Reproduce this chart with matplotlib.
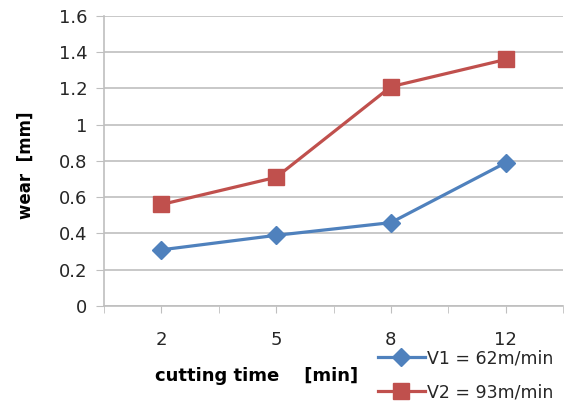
import matplotlib.pyplot as plt
import numpy as np

times = ["2", "5", "8", "12"]
wear_v1 = [0.31, 0.39, 0.46, 0.79]
wear_v2 = [0.56, 0.71, 1.21, 1.36]
label_v1 = "V1 = 62m/min"
label_v2 = "V2 = 93m/min"

blue = "#4F81BD"
red = "#C0504D"
grid_col = "#BFBFBF"
text_col = "#262626"

fig = plt.figure(figsize=(5.7, 4.03), dpi=100)
ax = fig.add_axes([0.1825, 0.2407, 0.8052, 0.7196])

x = np.arange(1, len(times) + 1)
l1, = ax.plot(x, wear_v1, color=blue, lw=2.3, marker="D", ms=9, label=label_v1)
l2, = ax.plot(x, wear_v2, color=red, lw=2.3, marker="s", ms=11, label=label_v2)

ax.set_xlim(0.5, 4.5)
ax.set_ylim(0, 1.6)
ax.set_yticks(np.arange(0, 1.61, 0.2))
ax.set_yticklabels(["0", "0.2", "0.4", "0.6", "0.8", "1", "1.2", "1.4", "1.6"])
ax.set_xticks(x)
ax.set_xticklabels(times)
ax.set_xticks(np.arange(0.5, 4.51, 1.0), minor=True)
ax.tick_params(axis="x", which="both", length=5, color=grid_col)
ax.tick_params(axis="x", which="major", pad=13, labelsize=13, labelcolor=text_col)
ax.tick_params(axis="y", length=6, color=grid_col, labelsize=13, labelcolor=text_col, pad=6)

ax.grid(axis="y", color=grid_col, lw=1.2)
ax.set_axisbelow(True)
for s in ["top", "right"]:
    ax.spines[s].set_visible(False)
for s in ["left", "bottom"]:
    ax.spines[s].set_color(grid_col)
    ax.spines[s].set_linewidth(1.2)

fig.text(0.045, 0.59, "wear  [mm]", rotation=90, ha="center", va="center",
         fontsize=12, fontweight="bold", color="black")
fig.text(0.272, 0.068, "cutting time    [min]", ha="left", va="center",
         fontsize=13, fontweight="bold", color="black")

fig.legend(handles=[l1, l2], loc="upper left", bbox_to_anchor=(0.663, 0.133),
           frameon=False, fontsize=12.5, handlelength=2.7, labelspacing=0.9,
           handletextpad=0.15, borderpad=0, borderaxespad=0, labelcolor=text_col)

fig.savefig("out.png", dpi=100)
